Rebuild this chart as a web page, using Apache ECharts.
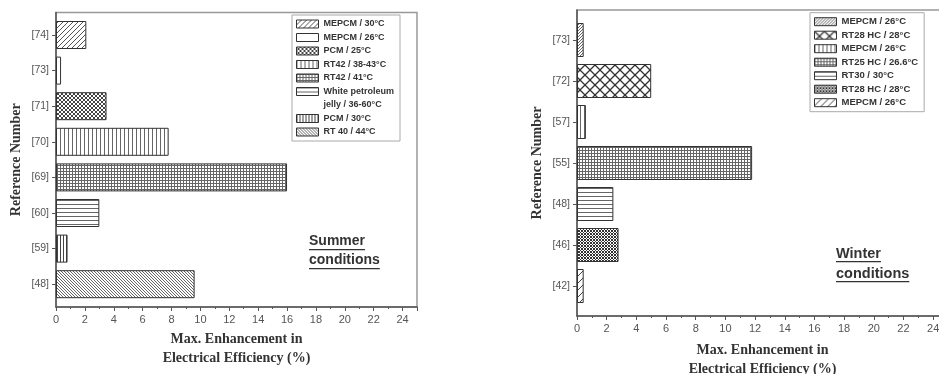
<!DOCTYPE html>
<html>
<head>
<meta charset="utf-8">
<script src="https://cdn.jsdelivr.net/npm/echarts@6/dist/echarts.min.js"></script>
<style>
  html, body { margin: 0; padding: 0; background: #fff; }
  #chart { width: 939px; height: 374px; }
</style>
</head>
<body>
<div id="chart"></div>
<script>
// summer panel (left)
const summerRefs = ['[74]', '[73]', '[71]', '[70]', '[69]', '[60]', '[59]', '[48]']
const summerValues = [2.1, 0.35, 3.5, 7.8, 16.0, 3.0, 0.8, 9.6]
const summerLegend = ['MEPCM / 30°C', 'MEPCM / 26°C', 'PCM / 25°C', 'RT42 / 38-43°C', 'RT42 / 41°C',
  'White petroleum\njelly / 36-60°C', 'PCM / 30°C', 'RT 40 / 44°C']
const summerPatterns = ['fwd', 'empty', 'dots', 'vert', 'grid', 'horiz', 'vert2', 'back']

// winter panel (right)
const winterRefs = ['[73]', '[72]', '[57]', '[55]', '[48]', '[46]', '[42]']
const winterValues = [0.45, 5.0, 0.6, 11.8, 2.45, 2.8, 0.45]
const winterLegend = ['MEPCM / 26°C', 'RT28 HC / 28°C', 'MEPCM / 26°C', 'RT25 HC / 26.6°C',
  'RT30 / 30°C', 'RT28 HC / 28°C', 'MEPCM / 26°C']
const winterPatterns = ['fwd2', 'bigcross', 'vert', 'grid', 'horiz', 'dark', 'fwdSparse']

const xTicks = [0, 2, 4, 6, 8, 10, 12, 14, 16, 18, 20, 22, 24]

// canvas hatch patterns like the Origin fills
function pattern(kind) {
  const sizes = {fwd: 5, fwd2: 3, fwdSparse: 7, back: 3, vert: 4, vert2: 3, horiz: 4, grid: 3,
    dots: 4, dark: 3, bigcross: 10, empty: 4}
  const s = sizes[kind]
  const c = document.createElement('canvas')
  c.width = s
  c.height = s
  const g = c.getContext('2d')
  g.fillStyle = '#fff'
  g.fillRect(0, 0, s, s)
  g.strokeStyle = '#555'
  g.lineWidth = 1
  const fwd = () => {
    g.beginPath()
    g.moveTo(0, s); g.lineTo(s, 0)
    g.moveTo(-1, 1); g.lineTo(1, -1)
    g.moveTo(s - 1, s + 1); g.lineTo(s + 1, s - 1)
    g.stroke()
  }
  const back = () => {
    g.beginPath()
    g.moveTo(0, 0); g.lineTo(s, s)
    g.moveTo(-1, s - 1); g.lineTo(1, s + 1)
    g.moveTo(s - 1, -1); g.lineTo(s + 1, 1)
    g.stroke()
  }
  if (kind === 'fwd' || kind === 'fwd2' || kind === 'fwdSparse') {
    if (kind === 'fwd2') g.strokeStyle = '#666'
    if (kind === 'fwdSparse') g.strokeStyle = '#444'
    fwd()
  } else if (kind === 'back') {
    g.strokeStyle = '#666'
    back()
  } else if (kind === 'vert' || kind === 'vert2') {
    g.strokeStyle = kind === 'vert2' ? '#444' : '#666'
    g.beginPath(); g.moveTo(0.5, 0); g.lineTo(0.5, s); g.stroke()
  } else if (kind === 'horiz') {
    g.strokeStyle = '#666'
    g.beginPath(); g.moveTo(0, 0.5); g.lineTo(s, 0.5); g.stroke()
  } else if (kind === 'grid') {
    g.strokeStyle = '#666'
    g.beginPath(); g.moveTo(0.5, 0); g.lineTo(0.5, s); g.moveTo(0, 0.5); g.lineTo(s, 0.5); g.stroke()
  } else if (kind === 'dots' || kind === 'dark') {
    g.strokeStyle = kind === 'dark' ? '#333' : '#444'
    fwd(); back()
  } else if (kind === 'bigcross') {
    g.strokeStyle = '#333'
    g.lineWidth = 1.3
    fwd(); back()
    g.fillStyle = '#fff'
    g.beginPath(); g.arc(s / 2, 0, 1.2, 0, Math.PI * 2); g.fill()
  }
  return {image: c, repeat: 'repeat'}
}

function textWidth(t, font) {
  const ctx = document.createElement('canvas').getContext('2d')
  ctx.font = font
  return ctx.measureText(t).width
}

const axisFont = '"Liberation Sans", Arial, sans-serif'
const nameFont = '"Liberation Serif", "Times New Roman", serif'

function buildPanel(p) {
  const {refs, values, legend, patterns, outer, inner, barWidth, prefix, gi, xGap, legendPos, legendFont} = p
  const series = []
  const legendData = []
  const labelMap = {}
  refs.forEach((r, i) => {
    const id = prefix + i
    const lines = legend[i].split('\n')
    labelMap[id] = lines[0]
    legendData.push({name: id, icon: 'rect'})
    series.push({
      type: 'bar',
      name: id,
      xAxisIndex: gi + 1,
      yAxisIndex: gi + 1,
      barWidth: barWidth,
      barGap: '-100%',
      data: refs.map((_, j) => j === i ? values[i] : '-'),
      itemStyle: {color: pattern(patterns[i]), borderColor: '#333', borderWidth: 1},
    })
    if (lines.length > 1) { // second text line of a legend entry, no icon
      const id2 = id + 'b'
      labelMap[id2] = lines[1]
      legendData.push({name: id2, icon: 'none'})
      series.push({type: 'line', name: id2, xAxisIndex: gi + 1, yAxisIndex: gi + 1, data: []})
    }
  })
  const grids = [
    {left: outer[0], top: outer[1], width: outer[2], height: outer[3], show: true,
      borderColor: '#999', borderWidth: 1.5, outerBoundsMode: 'none'},
    {left: inner[0], top: inner[1], width: inner[2], height: inner[3], outerBoundsMode: 'none'},
  ]
  const xAxes = [
    {
      gridIndex: gi, type: 'value', min: 0, max: 25, interval: 2,
      axisLine: {show: true, lineStyle: {color: '#555', width: 1.5}},
      axisTick: {show: true, length: 4, lineStyle: {color: '#555'}},
      minorTick: {show: true, splitNumber: 2, length: 2, lineStyle: {color: '#555'}},
      splitLine: {show: false},
      axisLabel: {color: '#555', fontSize: 11, fontFamily: axisFont, margin: 7, showMaxLabel: false,
        formatter: v => xTicks.includes(v) ? String(v) : ''},
      name: 'Max. Enhancement in\nElectrical Efficiency (%)',
      nameLocation: 'middle', nameGap: xGap,
      nameTextStyle: {fontFamily: nameFont, fontWeight: 'bold', fontSize: 14, color: '#333', lineHeight: 19},
    },
    {gridIndex: gi + 1, type: 'value', min: 0, max: 25, show: false},
  ]
  const yAxes = [
    {
      gridIndex: gi, type: 'value', min: 0, max: 1,
      axisLine: {show: true, lineStyle: {color: '#555', width: 1.5}},
      axisTick: {show: false}, axisLabel: {show: false}, splitLine: {show: false},
      name: 'Reference Number', nameLocation: 'middle', nameGap: 33,
      nameTextStyle: {fontFamily: nameFont, fontWeight: 'bold', fontSize: 14, color: '#333'},
    },
    {
      gridIndex: gi + 1, type: 'category', data: refs, inverse: true,
      axisLine: {show: false},
      axisTick: {show: true, alignWithLabel: true, length: 4, lineStyle: {color: '#555'}},
      axisLabel: {color: '#555', fontSize: 10.5, fontFamily: axisFont, margin: 7},
    },
  ]
  const leg = {
    orient: 'vertical', left: legendPos[0], top: legendPos[1],
    data: legendData, itemWidth: 22, itemHeight: 8, itemGap: 3.5,
    padding: [4, 6, 4, 4], borderColor: '#aaa', borderWidth: 1,
    selectedMode: false,
    formatter: name => labelMap[name],
    textStyle: {fontFamily: axisFont, fontWeight: 'bold', fontSize: legendFont, color: '#333', lineHeight: 10},
    itemStyle: {borderColor: '#333', borderWidth: 1},
  }
  return {grids, xAxes, yAxes, series, leg}
}

const summer = buildPanel({
  refs: summerRefs, values: summerValues, legend: summerLegend, patterns: summerPatterns,
  outer: [56, 12.5, 361, 294.5], inner: [56, 17.2, 361, 284.8], barWidth: 28,
  prefix: 's', gi: 0, xGap: 23, legendPos: [292, 15], legendFont: 9,
})
const winter = buildPanel({
  refs: winterRefs, values: winterValues, legend: winterLegend, patterns: winterPatterns,
  outer: [577, 10, 371, 306], inner: [577, 19.5, 371, 287], barWidth: 34,
  prefix: 'w', gi: 2, xGap: 25, legendPos: [810, 12.7], legendFont: 9.5,
})

// underlined condition captions
function caption(lines, x, ys, size) {
  const font = 'bold ' + size + 'px "Liberation Sans", Arial, sans-serif'
  const els = []
  lines.forEach((t, i) => {
    els.push({type: 'text', left: x, top: ys[i] - size * 0.6,
      style: {text: t, font: font, fill: '#333'}})
    els.push({type: 'rect', left: x, top: ys[i] + 6,
      shape: {width: textWidth(t, font), height: 1.3}, style: {fill: '#333'}})
  })
  return els
}

const chart = echarts.init(document.getElementById('chart'))
chart.setOption({
  animation: false,
  grid: [...summer.grids, ...winter.grids],
  xAxis: [...summer.xAxes, ...winter.xAxes],
  yAxis: [...summer.yAxes, ...winter.yAxes],
  legend: [summer.leg, winter.leg],
  series: [...summer.series, ...winter.series],
  graphic: [
    ...caption(['Summer', 'conditions'], 309, [243, 262], 14),
    ...caption(['Winter', 'conditions'], 836, [255, 275], 14.5),
  ],
})
window.addEventListener('resize', () => chart.resize())
</script>
</body>
</html>
